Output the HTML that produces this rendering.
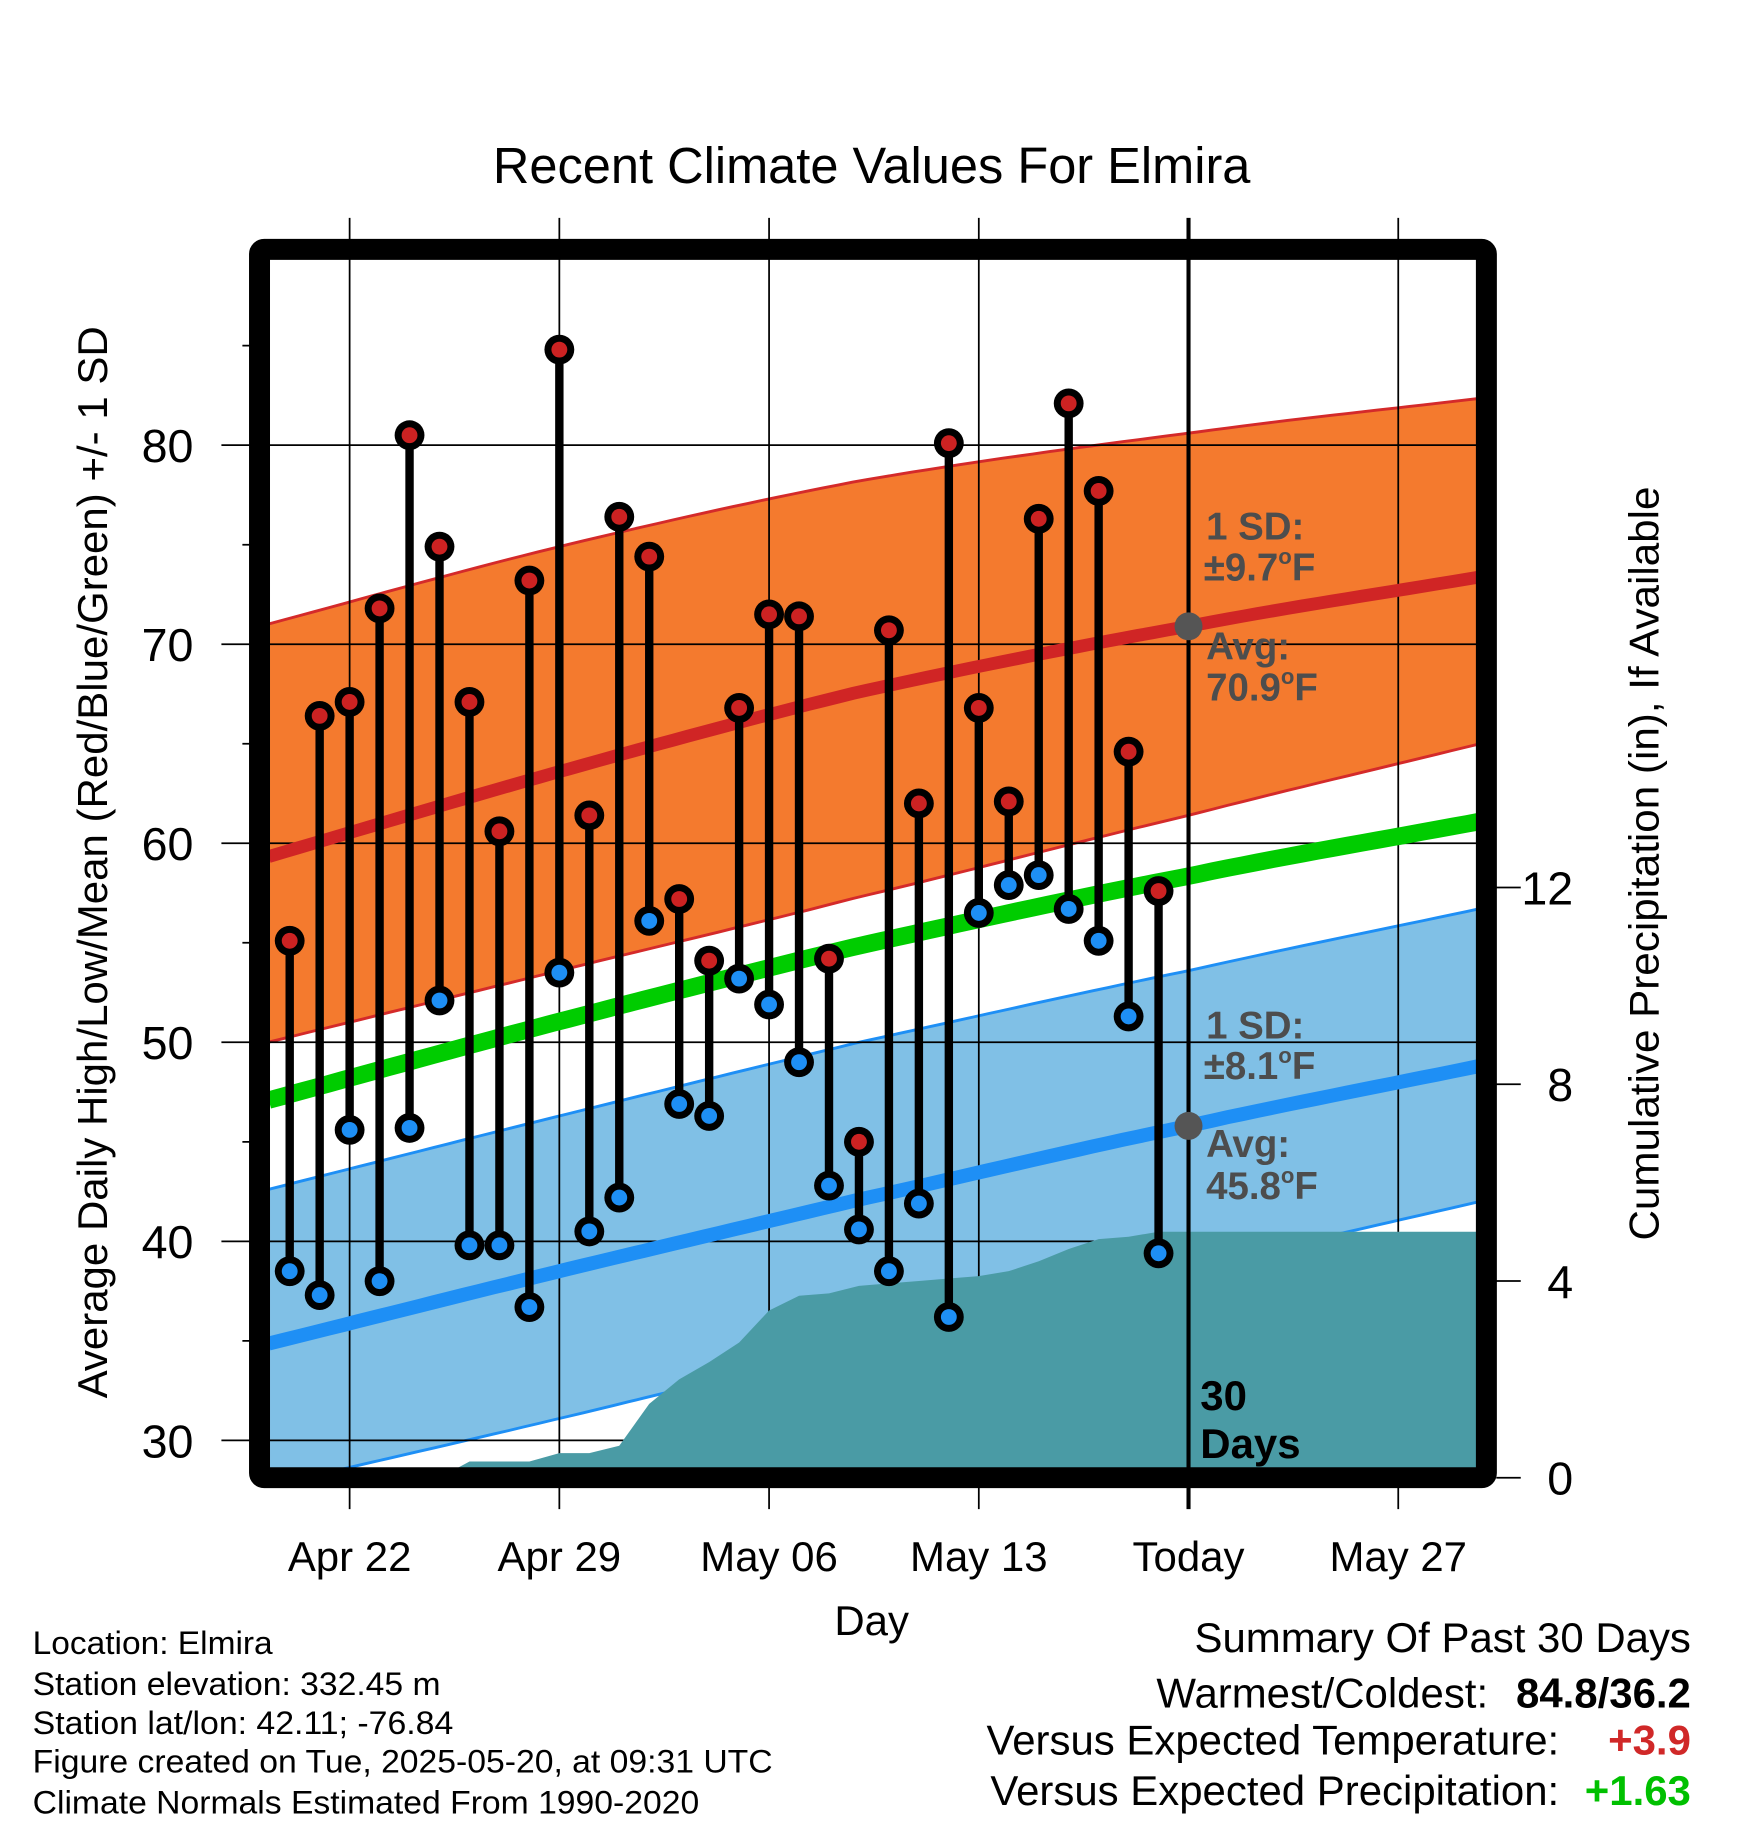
<!DOCTYPE html>
<html><head><meta charset="utf-8"><style>
html,body{margin:0;padding:0;background:#fff;}
svg{display:block;font-family:"Liberation Sans",Arial,sans-serif;}
</style></head><body>
<svg id="chart" width="1748" height="1828" viewBox="0 0 1500 1568.6" preserveAspectRatio="none" xmlns="http://www.w3.org/2000/svg">
<defs><clipPath id="plotClip"><rect x="231.7" y="223" width="1035" height="1036.5"/></clipPath></defs>
<rect x="0" y="0" width="1500" height="1568.6" fill="#fff"/>
<text x="748" y="157" font-size="43.5" text-anchor="middle" textLength="650" lengthAdjust="spacingAndGlyphs">Recent Climate Values For Elmira</text>
<g id="bands" clip-path="url(#plotClip)"></g>
<g id="grid"></g>
<g id="means" clip-path="url(#plotClip)"></g>
<g id="precip" clip-path="url(#plotClip)"></g>
<g id="today"></g>
<g id="annot" font-weight="bold" font-size="33" fill="#4d4d4d">
<text x="1035" y="463">1 SD:</text>
<text x="1033" y="498">±9.7<tspan font-size="19" dy="-14">o</tspan><tspan dy="14">F</tspan></text>
<text x="1035" y="566">Avg:</text>
<text x="1035" y="601">70.9<tspan font-size="19" dy="-14">o</tspan><tspan dy="14">F</tspan></text>
<text x="1035" y="891">1 SD:</text>
<text x="1033" y="926">±8.1<tspan font-size="19" dy="-14">o</tspan><tspan dy="14">F</tspan></text>
<text x="1035" y="993">Avg:</text>
<text x="1035" y="1029">45.8<tspan font-size="19" dy="-14">o</tspan><tspan dy="14">F</tspan></text>
<text x="1030" y="1210" fill="#000" font-size="36">30</text>
<text x="1030" y="1251" fill="#000" font-size="36">Days</text>
</g>
<g id="stems"></g>
<rect x="222.7" y="214" width="1052.8" height="1054" rx="4" fill="none" stroke="#000" stroke-width="18"/>
<g id="axes"></g>
<text transform="translate(92,740) rotate(-90)" font-size="36" text-anchor="middle" textLength="920" lengthAdjust="spacingAndGlyphs">Average Daily High/Low/Mean (Red/Blue/Green) +/- 1 SD</text>
<text transform="translate(1423,741) rotate(-90)" font-size="36" text-anchor="middle" textLength="647" lengthAdjust="spacingAndGlyphs">Cumulative Precipitation (in), If Available</text>
<text x="748" y="1403" font-size="36" text-anchor="middle">Day</text>
<g font-size="28">
<text x="28" y="1419.5" textLength="206" lengthAdjust="spacingAndGlyphs">Location: Elmira</text>
<text x="28" y="1454.5" textLength="350" lengthAdjust="spacingAndGlyphs">Station elevation: 332.45 m</text>
<text x="28" y="1488" textLength="361" lengthAdjust="spacingAndGlyphs">Station lat/lon: 42.11; -76.84</text>
<text x="28" y="1521" textLength="635" lengthAdjust="spacingAndGlyphs">Figure created on Tue, 2025-05-20, at 09:31 UTC</text>
<text x="28" y="1556" textLength="572" lengthAdjust="spacingAndGlyphs">Climate Normals Estimated From 1990-2020</text>
</g>
<g font-size="36">
<text x="1451" y="1417.5" text-anchor="end">Summary Of Past 30 Days</text>
<text x="1277" y="1465" text-anchor="end">Warmest/Coldest:</text>
<text x="1451" y="1465" text-anchor="end" font-weight="bold">84.8/36.2</text>
<text x="1338" y="1505.5" text-anchor="end">Versus Expected Temperature:</text>
<text x="1451" y="1505.5" text-anchor="end" font-weight="bold" fill="#d02828">+3.9</text>
<text x="1338" y="1549" text-anchor="end">Versus Expected Precipitation:</text>
<text x="1451" y="1549" text-anchor="end" font-weight="bold" fill="#00c000">+1.63</text>
</g>
</svg>
<script>
const dayLabels = ['Apr 20','Apr 21','Apr 22','Apr 23','Apr 24','Apr 25','Apr 26','Apr 27','Apr 28','Apr 29','Apr 30','May 01','May 02','May 03','May 04','May 05','May 06','May 07','May 08','May 09','May 10','May 11','May 12','May 13','May 14','May 15','May 16','May 17','May 18','May 19'];
const highs = [55.1,66.4,67.1,71.8,80.5,74.9,67.1,60.6,73.2,84.8,61.4,76.4,74.4,57.2,54.1,66.8,71.5,71.4,54.2,45.0,70.7,62.0,80.1,66.8,62.1,76.3,82.1,77.7,64.6,57.6];
const lows = [38.5,37.3,45.6,38.0,45.7,52.1,39.8,39.8,36.7,53.5,40.5,42.2,56.1,46.9,46.3,53.2,51.9,49.0,42.8,40.6,38.5,41.9,36.2,56.5,57.9,58.4,56.7,55.1,51.3,39.4];
const precipCum = [0,0,0,0,0,0,0.33,0.33,0.33,0.5,0.5,0.65,1.5,2.0,2.35,2.75,3.4,3.7,3.75,3.9,3.95,4.0,4.05,4.1,4.2,4.4,4.65,4.85,4.9,5.0];
const normDays = [-1,9,19,30,40];
const hiMean = [59.2,63.6,67.6,70.9,73.45];
const hiTop = [70.9,74.9,78.2,80.6,82.4];
const hiBot = [49.9,53.6,57.3,61.4,65.1];
const loMean = [34.75,38.5,42.1,45.8,48.9];
const loTop = [42.5,46.3,50.0,53.6,56.8];
const loBot = [27.6,31.1,34.8,38.6,42.1];
const xTickLabels = ['Apr 22','Apr 29','May 06','May 13','Today','May 27'];
const xTickDays = [2,9,16,23,30,37];
const yTickValues = [30,40,50,60,70,80];
const yMinorValues = [35,45,55,65,75,85];
const precipTicks = [0,4,8,12];
const todayIndex = 30;
const todayHighAvg = 70.9;
const todayLowAvg = 45.8;

const NS='http://www.w3.org/2000/svg';
const X=d=>248.6+25.71*d;
const Y=v=>382+(80-v)*17.08;
const P=p=>1268-42.2*p;
const D0=-0.7, D1=39.8;
function mk(tag,attrs,parent){const e=document.createElementNS(NS,tag);for(const k in attrs)e.setAttribute(k,attrs[k]);parent.appendChild(e);return e;}
function interp(arr,d){
  const n=normDays.length;
  let i=0;
  while(i<n-2 && d>normDays[i+1]) i++;
  const t=(d-normDays[i])/(normDays[i+1]-normDays[i]);
  const p1=arr[i], p2=arr[i+1];
  const p0=i>0?arr[i-1]:2*p1-p2;
  const p3=i+2<n?arr[i+2]:2*p2-p1;
  const t2=t*t,t3=t2*t;
  return 0.5*((2*p1)+(-p0+p2)*t+(2*p0-5*p1+4*p2-p3)*t2+(-p0+3*p1-3*p2+p3)*t3);
}
const samples=[];for(let d=D0;d<=D1+0.001;d+=0.5)samples.push(d);
function linePts(f){return samples.map(d=>X(d).toFixed(1)+','+Y(f(d)).toFixed(1));}
function bandPath(top,bot){const a=linePts(d=>interp(top,d));const b=linePts(d=>interp(bot,d)).reverse();return 'M'+a.join('L')+'L'+b.join('L')+'Z';}

const bands=document.getElementById('bands');
let e;
e=mk('path',{d:bandPath(hiTop,hiBot),fill:'#f47a2e'},bands);


e=mk('path',{d:bandPath(loTop,loBot),fill:'#80c0e6'},bands);


[[hiTop,'#d42a2a','high-band-top'],[hiBot,'#d42a2a','high-band-bottom'],[loTop,'#1e8ff5','low-band-top'],[loBot,'#1e8ff5','low-band-bottom']].forEach(([arr,c,n])=>{
  const l=mk('polyline',{points:linePts(d=>interp(arr,d)).join(' '),fill:'none',stroke:c,'stroke-width':2.5},bands);
  
  
});

const grid=document.getElementById('grid');
xTickDays.forEach((d,i)=>{
  if(i===4)return;
  const l=mk('line',{x1:X(d),x2:X(d),y1:187,y2:1295,stroke:'#000','stroke-width':1.5},grid);
  
  
});
yTickValues.forEach(v=>{
  const l=mk('line',{x1:190,x2:1267,y1:Y(v),y2:Y(v),stroke:'#000','stroke-width':1.5},grid);
  
  
});
yMinorValues.forEach(v=>{
  const l=mk('line',{x1:208,x2:222,y1:Y(v),y2:Y(v),stroke:'#000','stroke-width':1.5},grid);
  
  
});

const means=document.getElementById('means');
e=mk('polyline',{points:linePts(d=>interp(hiMean,d)).join(' '),fill:'none',stroke:'#d02525','stroke-width':11},means);


e=mk('polyline',{points:linePts(d=>(interp(hiMean,d)+interp(loMean,d))/2).join(' '),fill:'none',stroke:'#00cc00','stroke-width':15},means);


e=mk('polyline',{points:linePts(d=>interp(loMean,d)).join(' '),fill:'none',stroke:'#1e8ff5','stroke-width':12},means);



const precip=document.getElementById('precip');
let pd='M'+X(D0)+','+P(0)+' L'+X(D0)+','+P(precipCum[0]);
precipCum.forEach((p,i)=>{pd+=' L'+X(i).toFixed(1)+','+P(p).toFixed(1);});
pd+=' L'+X(D1)+','+P(precipCum[precipCum.length-1])+' L'+X(D1)+','+P(0)+'Z';
e=mk('path',{d:pd,fill:'#4a9ba5'},precip);



const today=document.getElementById('today');
e=mk('line',{x1:X(todayIndex),x2:X(todayIndex),y1:187,y2:1295,stroke:'#000','stroke-width':3.5},today);


e=mk('circle',{cx:X(todayIndex),cy:Y(todayHighAvg),r:12,fill:'#555'},today);


e=mk('circle',{cx:X(todayIndex),cy:Y(todayLowAvg),r:12,fill:'#555'},today);



const stems=document.getElementById('stems');
highs.forEach((h,i)=>{
  const x=X(i);
  const s=mk('line',{x1:x,x2:x,y1:Y(h),y2:Y(lows[i]),stroke:'#000','stroke-width':7.2},stems);
  
  
});
highs.forEach((h,i)=>{
  const x=X(i);
  [[h,'#cc2222','high-marker'],[lows[i],'#1e8ff5','low-marker']].forEach(([v,c,n])=>{
    const o=mk('circle',{cx:x,cy:Y(v),r:12.8,fill:'#000'},stems);
    
    
    const m=mk('circle',{cx:x,cy:Y(v),r:6.8,fill:c},stems);
    
    
  });
});

const axes=document.getElementById('axes');
xTickLabels.forEach((t,i)=>{
  const tx=mk('text',{x:X(xTickDays[i]),y:1348,'font-size':36,'text-anchor':'middle'},axes);
  tx.textContent=t;
  
  
});
yTickValues.forEach(v=>{
  const tx=mk('text',{x:166,y:Y(v)+14.5,'font-size':40,'text-anchor':'end'},axes);
  tx.textContent=String(v);
  
  
});
precipTicks.forEach(p=>{
  const l=mk('line',{x1:1284,x2:1305,y1:P(p),y2:P(p),stroke:'#000','stroke-width':1.5},axes);
  
  
  const tx=mk('text',{x:1350,y:P(p)+14.5,'font-size':40,'text-anchor':'end'},axes);
  tx.textContent=String(p);
  
  
});
</script>
</body></html>
